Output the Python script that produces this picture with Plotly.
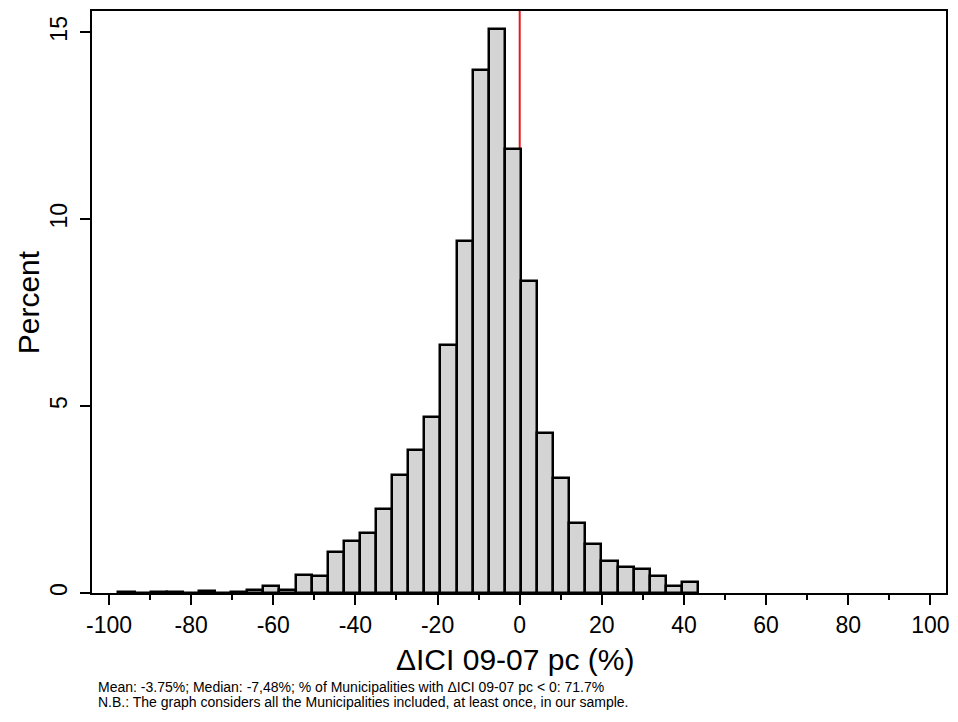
import plotly.graph_objects as go

# Histogram data (percent of municipalities per bin)
bin_start = -97.7
bin_width = 3.92
percent = [
    0.04, 0.00, 0.02, 0.02, 0.01, 0.05, 0.01, 0.04, 0.09, 0.18,
    0.08, 0.49, 0.45, 1.10, 1.40, 1.61, 2.25, 3.17, 3.82, 4.71,
    6.63, 9.41, 14.00, 15.10, 11.89, 8.34, 4.29, 3.08, 1.86, 1.31,
    0.86, 0.69, 0.63, 0.45, 0.20, 0.29,
]
bin_centers = [bin_start + bin_width * (i + 0.5) for i in range(len(percent))]

x_ticks = [-100, -80, -60, -40, -20, 0, 20, 40, 60, 80, 100]
y_ticks = [0, 5, 10, 15]
x_title = "ΔICI 09-07 pc (%)"
y_title = "Percent"
note_lines = [
    "Mean: -3.75%; Median: -7,48%; % of Municipalities with ΔICI 09-07 pc &lt; 0: 71.7%",
    "N.B.: The graph considers all the Municipalities included, at least once, in our sample.",
]

FONT = "Liberation Sans, Arial, Helvetica, sans-serif"

fig = go.Figure()
fig.add_trace(go.Bar(
    x=bin_centers, y=percent, width=bin_width,
    marker=dict(color="#d4d4d4", line=dict(color="black", width=2.5)),
    hoverinfo="x+y",
))

fig.add_shape(type="line", x0=0, x1=0, y0=0, y1=1, xref="x", yref="y domain",
              line=dict(color="#e8191c", width=2), layer="below")

# page body has an 8px margin, so the figure is sized/placed to compensate
fig.update_layout(
    width=942, height=706,
    margin=dict(l=84, r=0, t=3, b=121),
    paper_bgcolor="white", plot_bgcolor="white",
    showlegend=False, bargap=0,
    font=dict(family=FONT, color="black"),
)
fig.update_xaxes(
    range=[-104.14, 103.8], tickvals=x_ticks, ticktext=[str(v) for v in x_ticks],
    ticks="outside", ticklen=10, tickwidth=2, tickcolor="black",
    minor=dict(ticks="outside", dtick=10, tick0=0, ticklen=5, tickwidth=2, tickcolor="black"),
    showgrid=False, zeroline=False, showline=True, linewidth=2, linecolor="black", mirror=True,
    tickfont=dict(size=23, family=FONT), ticklabeloverflow="allow",
)
fig.update_yaxes(
    range=[0, 15.57], tickvals=y_ticks, ticktext=[str(v) for v in y_ticks],
    ticks="outside", ticklen=10, tickwidth=2, tickcolor="black", tickangle=-90,
    showgrid=False, zeroline=False, showline=True, linewidth=2, linecolor="black", mirror=True,
    tickfont=dict(size=23, family=FONT), ticklabelstandoff=4,
)

fig.add_annotation(text=x_title, xref="paper", yref="paper", x=0.495, y=-0.1151,
                   xanchor="center", yanchor="middle", showarrow=False,
                   font=dict(size=30, family=FONT))
fig.add_annotation(text=y_title, xref="paper", yref="paper", x=-0.0746, y=0.5,
                   xanchor="center", yanchor="middle", showarrow=False, textangle=-90,
                   font=dict(size=30, family=FONT))
for line, ypos in zip(note_lines, [-0.1615, -0.1873]):
    fig.add_annotation(text=line, xref="paper", yref="paper",
                       x=0.0047, y=ypos, xanchor="left", yanchor="middle", align="left",
                       showarrow=False, font=dict(size=14, family=FONT))

fig.write_html("out.html")
